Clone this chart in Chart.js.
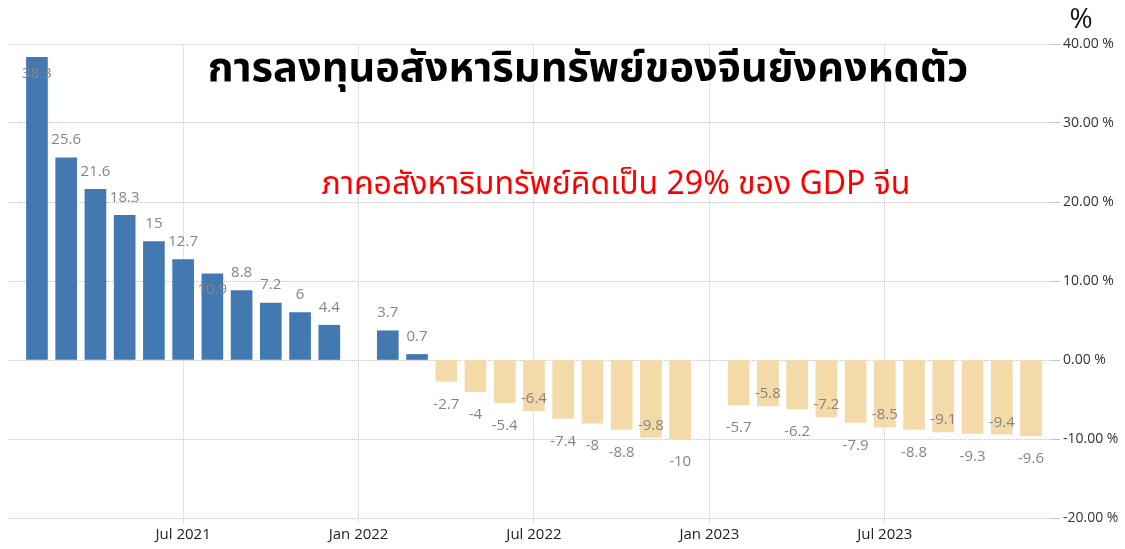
<!DOCTYPE html>
<html>
<head>
<meta charset="utf-8">
<script src="https://cdn.jsdelivr.net/npm/chart.js@4.4.0/dist/chart.umd.min.js"></script>
<style>
html,body{margin:0;padding:0;background:#fff;}
#wrap{position:relative;width:1125px;height:549px;}
</style>
</head>
<body>
<div id="wrap"><canvas id="c" width="1125" height="549"></canvas></div>
<script>
// ---- data ----
const months = ["Feb 2021","Mar 2021","Apr 2021","May 2021","Jun 2021","Jul 2021","Aug 2021","Sep 2021","Oct 2021","Nov 2021","Dec 2021",
  "Jan 2022","Feb 2022","Mar 2022","Apr 2022","May 2022","Jun 2022","Jul 2022","Aug 2022","Sep 2022","Oct 2022","Nov 2022","Dec 2022",
  "Jan 2023","Feb 2023","Mar 2023","Apr 2023","May 2023","Jun 2023","Jul 2023","Aug 2023","Sep 2023","Oct 2023","Nov 2023","Dec 2023"];
const values = [38.3,25.6,21.6,18.3,15,12.7,10.9,8.8,7.2,6,4.4,
  null,3.7,0.7,-2.7,-4,-5.4,-6.4,-7.4,-8,-8.8,-9.8,-10,
  null,-5.7,-5.8,-6.2,-7.2,-7.9,-8.5,-8.8,-9.1,-9.3,-9.4,-9.6];
const xTickLabels = ["Jul 2021","Jan 2022","Jul 2022","Jan 2023","Jul 2023"];
const yTicks = [-20,-10,0,10,20,30,40];
const titleText = "การลงทุนอสังหาริมทรัพย์ของจีนยังคงหดตัว";
const subtitleText = "ภาคอสังหาริมทรัพย์คิดเป็น 29% ของ GDP จีน";
const unitText = "%";
// labels drawn on the inner side of the bar end (as in the reference)
const labelInside = ["Feb 2021","Aug 2021","Jul 2022","Nov 2022","Mar 2023","May 2023","Jul 2023","Sep 2023","Nov 2023"];

// ---- build ----
const points = [];
months.forEach((m,i)=>{ if(values[i]!==null) points.push({x:i,y:values[i]}); });
const xTickPos = xTickLabels.map(l=>months.indexOf(l));

const THAI = "'Noto Sans Thai','Tahoma','Noto Sans','DejaVu Sans',sans-serif";
const LAB = "'Open Sans','Liberation Sans',sans-serif";

const overlay = {
  id:'overlay',
  afterDatasetsDraw(chart){
    const ctx = chart.ctx;
    const meta = chart.getDatasetMeta(0);
    ctx.save();
    ctx.font = "15px " + LAB;
    ctx.fillStyle = "#858585";
    ctx.textAlign = "center";
    ctx.textBaseline = "middle";
    meta.data.forEach((bar,k)=>{
      const p = points[k];
      const inside = labelInside.includes(months[p.x]);
      let y;
      if(p.y>=0) y = inside ? bar.y+16 : bar.y-18;
      else y = inside ? bar.y-12 : bar.y+23;
      ctx.fillText(String(p.y), bar.x, y);
    });
    ctx.restore();
  },
  afterDraw(chart){
    const ctx = chart.ctx;
    ctx.save();
    ctx.textAlign = "center";
    ctx.textBaseline = "alphabetic";
    ctx.fillStyle = "#000";
    ctx.font = "bold 40px " + THAI;
    let w = ctx.measureText(titleText).width;
    let fs = 40*761/w;
    ctx.font = "bold " + fs.toFixed(1) + "px " + THAI;
    ctx.fillText(titleText, 588, 81);
    ctx.fillStyle = "#ff0000";
    ctx.font = "26px " + THAI;
    w = ctx.measureText(subtitleText).width;
    fs = 26*588/w;
    ctx.font = fs.toFixed(1) + "px " + THAI;
    ctx.fillText(subtitleText, 616, 194);
    ctx.fillStyle = "#111";
    ctx.font = "28px " + LAB;
    ctx.fillText(unitText, 1081, 28);
    ctx.restore();
  }
};

new Chart(document.getElementById('c'), {
  type:'bar',
  data:{
    datasets:[{
      data: points,
      backgroundColor: ctx => (ctx.raw && ctx.raw.y < 0) ? '#f4daa9' : '#4279b1',
      barThickness: 21,
      borderWidth: 0
    }]
  },
  options:{
    responsive:false,
    animation:false,
    layout:{padding:{left:8,top:44,right:0,bottom:0}},
    plugins:{legend:{display:false},tooltip:{enabled:false},title:{display:false}},
    scales:{
      x:{
        type:'linear',
        offset:false,
        min:-0.99, max:34.65,
        afterBuildTicks: s => { s.ticks = xTickPos.map(v=>({value:v})); },
        afterFit: s => { s.height = 31; },
        ticks:{
          autoSkip:false, maxRotation:0,
          callback: v => { const i = xTickPos.indexOf(v); return i>=0 ? xTickLabels[i] : ''; },
          font:{size:15,family:LAB}, color:'#222', padding:2
        },
        grid:{offset:false, color:'#e2e2e2', lineWidth:1, tickLength:6, drawOnChartArea:true},
        border:{display:false}
      },
      y:{
        position:'right',
        min:-20, max:40,
        afterBuildTicks: s => { s.ticks = yTicks.map(v=>({value:v})); },
        afterFit: s => { s.width = 75; },
        ticks:{
          callback: v => v.toFixed(2) + ' %',
          font:{size:14,family:LAB}, color:'#333', padding:3
        },
        grid:{color:'#c4c4c4', lineWidth:1, tickLength:10, drawTicks:true},
        border:{display:false, dash:[1,1]}
      }
    }
  },
  plugins:[overlay]
});
</script>
</body>
</html>
